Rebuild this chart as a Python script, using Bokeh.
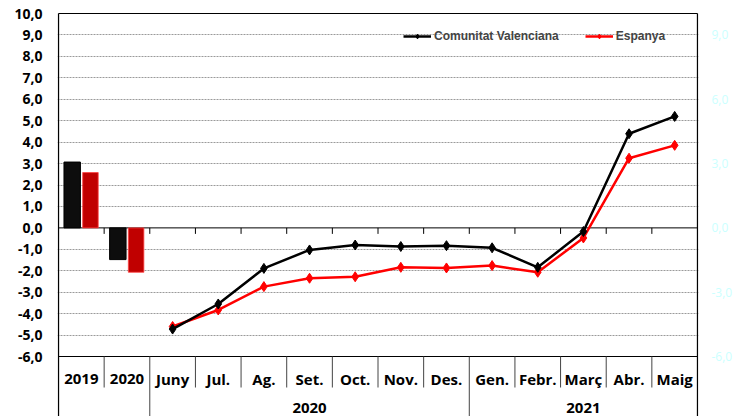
from bokeh.plotting import figure
from bokeh.models import (Range1d, FixedTicker, LinearAxis, Legend, LegendItem,
                          ColumnDataSource)
from bokeh.core.properties import value
from bokeh.embed import file_html
from bokeh.resources import INLINE

# ---------------- data ----------------
bar_cats = ["2019", "2020"]
bar_cv = [3.07, -1.48]
bar_es = [2.58, -2.07]

months = ["Juny", "Jul.", "Ag.", "Set.", "Oct.", "Nov.", "Des.",
          "Gen.", "Febr.", "Març", "Abr.", "Maig"]
cv_vals = [-4.72, -3.55, -1.89, -1.03, -0.80, -0.87, -0.83,
           -0.93, -1.84, -0.17, 4.39, 5.20]
es_vals = [-4.60, -3.83, -2.74, -2.35, -2.28, -1.84, -1.87,
           -1.76, -2.07, -0.47, 3.25, 3.85]

year_groups = ["2020", "2021"]
year_counts = [7, 5]

series_names = ["Comunitat Valenciana", "Espanya"]

left_ticks = [-6, -5, -4, -3, -2, -1, 0, 1, 2, 3, 4, 5, 6, 7, 8, 9, 10]
left_labels = ["-6,0", "-5,0", "-4,0", "-3,0", "-2,0", "-1,0", "0,0", "1,0", "2,0",
               "3,0", "4,0", "5,0", "6,0", "7,0", "8,0", "9,0", "10,0"]
right_ticks = [-6, -3, 0, 3, 6, 9]
right_labels = ["-6,0", "-3,0", "0,0", "3,0", "6,0", "9,0"]

# ---------------- layout constants ----------------
W, H = 739, 416
YMIN, YMAX = -6, 10
PPU = 343 / 16.0           # pixels per y unit
NCAT = len(bar_cats) + len(months)
PPX = 639 / NCAT           # pixels per category

TOP_LINE_PX = 13           # pixel row of y = 10
frame_top = 12
frame_bottom = H
y_end = YMAX + (TOP_LINE_PX - frame_top) / PPU
y_start = YMAX - (frame_bottom - TOP_LINE_PX) / PPU
x_start = -1 / PPX
x_end = NCAT + 1 / PPX


def py(px):
    """convert a pixel row into data y"""
    return YMAX - (px - TOP_LINE_PX) / PPU


p = figure(width=W, height=H, output_backend="svg", toolbar_location=None,
           x_range=Range1d(x_start, x_end), y_range=Range1d(y_start, y_end),
           x_axis_location=None, y_axis_location="left",
           min_border_left=57, min_border_right=41, min_border_top=frame_top,
           min_border_bottom=0)
p.outline_line_color = None
p.xgrid.grid_line_color = None
p.background_fill_color = "white"

# grid
p.ygrid.ticker = FixedTicker(ticks=[t for t in left_ticks if t not in (0, YMIN, YMAX)])
p.ygrid.grid_line_color = "#9a9a9a"
p.ygrid.grid_line_dash = "2 1"
p.ygrid.grid_line_width = 1

# left axis
ya = p.yaxis[0]
ya.ticker = FixedTicker(ticks=left_ticks)
ya.major_label_overrides = {t: l for t, l in zip(left_ticks, left_labels)}
ya.axis_line_color = None
ya.major_tick_line_color = None
ya.minor_tick_line_color = None
ya.major_tick_out = 0
ya.major_label_standoff = 15
ya.major_label_text_font = "Open Sans"
ya.major_label_text_font_style = "bold"
ya.major_label_text_font_size = "14px"
ya.major_label_text_color = "black"

# right axis
ra = LinearAxis(ticker=FixedTicker(ticks=right_ticks))
ra.major_label_overrides = {t: l for t, l in zip(right_ticks, right_labels)}
ra.axis_line_color = None
ra.major_tick_line_color = None
ra.minor_tick_line_color = None
ra.major_tick_out = 0
ra.major_label_standoff = 13
ra.major_label_text_font = "Open Sans"
ra.major_label_text_font_size = "12px"
ra.major_label_text_color = "#ccffff"
p.add_layout(ra, "right")

# frame / structure lines
x_bounds = list(range(NCAT + 1))
p.segment(x0=[0, 0], y0=[YMAX, YMIN], x1=[NCAT, NCAT], y1=[YMAX, YMIN],
          line_color="black", line_width=1)
p.segment(x0=[0, NCAT], y0=[y_start, y_start], x1=[0, NCAT], y1=[YMAX, YMAX],
          line_color="black", line_width=1.3)
p.segment(x0=[0], y0=[0], x1=[NCAT], y1=[0], line_color="black", line_width=1)
inner = x_bounds[1:-1]
p.segment(x0=inner, y0=[0] * len(inner), x1=inner, y1=[-6 / PPU] * len(inner),
          line_color="black", line_width=1)

group_bounds = [0, len(bar_cats)]
acc = len(bar_cats)
for c in year_counts:
    acc += c
    group_bounds.append(acc)
short = [b for b in inner if b not in group_bounds]
full = [b for b in inner if b in group_bounds]
row1_bottom = py(387)
p.segment(x0=short, y0=[YMIN] * len(short), x1=short, y1=[row1_bottom] * len(short),
          line_color="#444444", line_width=1)
p.segment(x0=full, y0=[YMIN] * len(full), x1=full, y1=[y_start] * len(full),
          line_color="#444444", line_width=1)

# category labels
cat_labels = bar_cats + months
cat_x = [i + 0.5 for i in range(NCAT)]
p.text(x=cat_x, y=[py(378)] * NCAT, text=cat_labels, text_align="center",
       text_baseline="middle", text_font=value("Open Sans"), text_font_style="bold",
       text_font_size="15px", text_color="black")
gx = [(group_bounds[i + 1] + group_bounds[i + 2]) / 2 for i in range(len(year_groups))]
p.text(x=gx, y=[py(407)] * len(gx), text=year_groups, text_align="center",
       text_baseline="middle", text_font=value("Open Sans"), text_font_style="bold",
       text_font_size="15px", text_color="black")

# bars
bx = [i + 0.5 for i in range(len(bar_cats))]
p.vbar(x=[b - 0.2 for b in bx], top=bar_cv, bottom=0, width=0.36,
       fill_color="#0d0d0d", line_color="black", line_width=1)
p.vbar(x=[b + 0.2 for b in bx], top=bar_es, bottom=0, width=0.34,
       fill_color="#c00000", line_color="#ff4040", line_width=0.8)

# lines
mx = [len(bar_cats) + i + 0.5 for i in range(len(months))]
src = ColumnDataSource(dict(x=mx, cv=cv_vals, es=es_vals))
l_es = p.line("x", "es", source=src, line_color="#ff0000", line_width=2.5)
m_es = p.scatter("x", "es", source=src, marker="diamond", size=10,
                 fill_color="#ff0000", line_color="#ff0000")
l_cv = p.line("x", "cv", source=src, line_color="black", line_width=2.5)
m_cv = p.scatter("x", "cv", source=src, marker="diamond", size=10,
                 fill_color="black", line_color="black")

legend = Legend(items=[LegendItem(label=series_names[0], renderers=[l_cv, m_cv]),
                       LegendItem(label=series_names[1], renderers=[l_es, m_es])],
                orientation="horizontal", location=(346, 373))
legend.background_fill_alpha = 0
legend.border_line_color = None
legend.label_text_font = "Liberation Sans"
legend.label_text_font_style = "bold"
legend.label_text_font_size = "12px"
legend.glyph_width = 28
legend.glyph_height = 12
legend.label_height = 12
legend.label_standoff = 3
legend.spacing = 26
legend.padding = 0
legend.margin = 0
p.add_layout(legend)

open("out.html", "w").write(file_html(p, INLINE))
